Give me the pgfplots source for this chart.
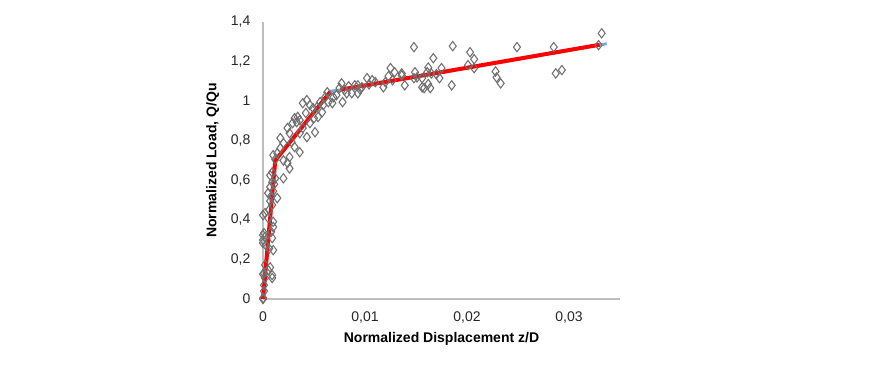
\documentclass[border=0pt]{standalone}
\usepackage{pgfplots}
\pgfplotsset{compat=1.18}
\usepackage{fontspec}
\setmainfont{Liberation Sans}
\definecolor{mkgray}{RGB}{112,112,112}
\definecolor{axgray}{RGB}{190,190,190}
\definecolor{fitblue}{RGB}{125,165,215}
\begin{document}
\begin{tikzpicture}
\begin{axis}[
  scale only axis, width=267.75pt, height=207.75pt,
  at={(197.25pt,51pt)}, anchor=south west,
  xmin=0, xmax=0.035, ymin=0, ymax=1.4,
  axis lines*=left, axis line style={axgray, line width=0.8pt},
  scaled x ticks=false, scaled y ticks=false,
  xtick={0,0.01,0.02,0.03}, ytick={0,0.2,0.4,0.6,0.8,1,1.2,1.4},
  xticklabels={0,{0,01},{0,02},{0,03}},
  yticklabels={0,{0,2},{0,4},{0,6},{0,8},1,{1,2},{1,4}},
  major tick length=0pt,
  tick label style={font=\fontsize{10.5}{12}\selectfont, text=black!85},
  xticklabel style={yshift=-6pt},
  yticklabel style={xshift=-6pt},
  xlabel={\textbf{Normalized Displacement z/D}},
  ylabel={\textbf{Normalized Load, Q/Qu}},
  label style={font=\fontsize{10.5}{12}\selectfont},
  ylabel style={yshift=2pt},
  clip=false,
]
\addplot[only marks, mark=diamond, mark size=3.5pt, mark options={draw=mkgray, fill=none, line width=0.8pt}] coordinates {
(0,0) (0.00002,0.005) (0.0001,0.04) (0.0001,0.07) (0.0002,0.106) (0.0009,0.106)
(0,0.126) (0.0001,0.13) (0.0009,0.121) (0.0005,0.146) (0.0002,0.172) (0.0007,0.16)
(0.001,0.247) (0.0006,0.255) (0.0003,0.27) (0,0.283) (0,0.298) (0.0002,0.313)
(0,0.323) (0.0001,0.333) (0.0009,0.308) (0.0008,0.34) (0.001,0.364) (0.001,0.39)
(0.0005,0.41) (0,0.424) (0.0002,0.434) (0.0006,0.45) (0.0009,0.475) (0.0014,0.51)
(0.0007,0.495) (0.0008,0.52) (0.0005,0.535) (0.001,0.545) (0.0007,0.566) (0.0011,0.58)
(0.0009,0.59) (0.0012,0.61) (0.002,0.61) (0.0007,0.625) (0.0009,0.64) (0.0026,0.66)
(0.0024,0.687) (0.002,0.70) (0.0012,0.705) (0.001,0.727) (0.0014,0.737) (0.0026,0.717)
(0.0036,0.742) (0.0017,0.762) (0.0031,0.768) (0.002,0.788) (0.0028,0.793) (0.0017,0.813)
(0.0043,0.818) (0.0036,0.838) (0.0026,0.838) (0.0051,0.843) (0.0024,0.864) (0.0039,0.864)
(0.0029,0.889) (0.0046,0.889) (0.0033,0.894) (0.0036,0.904) (0.0031,0.914) (0.005,0.914)
(0.0034,0.92) (0.0054,0.92) (0.0058,0.944) (0.0042,0.94) (0.0049,0.965) (0.0053,0.97)
(0.0046,0.98) (0.0059,0.98) (0.0039,0.99) (0.0056,0.995) (0.0064,0.995) (0.0068,0.99)
(0.0043,1.005) (0.0061,1.02) (0.0069,1.02) (0.0063,1.045) (0.0072,1.03) (0.0078,0.995)
(0.0075,1.066) (0.0077,1.09) (0.008,1.056) (0.0082,1.04) (0.0087,1.04) (0.0084,1.075)
(0.009,1.08) (0.0093,1.04) (0.0097,1.07) (0.0093,1.08) (0.0095,1.06) (0.0102,1.116)
(0.0107,1.106) (0.011,1.096) (0.0104,1.085) (0.0118,1.07) (0.012,1.096) (0.0123,1.126)
(0.0125,1.167) (0.0127,1.106) (0.0129,1.146) (0.0136,1.14) (0.0136,1.13) (0.0139,1.08)
(0.0148,1.273) (0.0148,1.116) (0.0149,1.146) (0.0151,1.12) (0.0156,1.116) (0.0156,1.07)
(0.0158,1.066) (0.0161,1.146) (0.0162,1.17) (0.0162,1.086) (0.0164,1.066) (0.0165,1.14)
(0.0167,1.217) (0.0170,1.136) (0.0173,1.116) (0.0175,1.167) (0.0185,1.08) (0.0186,1.278)
(0.0201,1.182) (0.0203,1.247) (0.0207,1.212) (0.0207,1.167) (0.0228,1.15) (0.0229,1.12)
(0.0233,1.09) (0.0249,1.273) (0.0285,1.273) (0.0287,1.14) (0.0293,1.157) (0.0329,1.283)
(0.0332,1.343)
};
\addplot[fitblue, line width=2.2pt] coordinates {
(0,0) (0.0012,0.70) (0.0066,1.05) (0.0075,1.056) (0.0337,1.29)
};
\addplot[red, line width=3pt] coordinates {
(0,0) (0.0012,0.70) (0.0066,1.047)
};
\addplot[red, line width=3pt] coordinates {
(0.0076,1.058) (0.0330,1.285)
};
\end{axis}
\pgfresetboundingbox
\path[use as bounding box] (0,0) rectangle (665.25pt,275.25pt);
\end{tikzpicture}
\end{document}
